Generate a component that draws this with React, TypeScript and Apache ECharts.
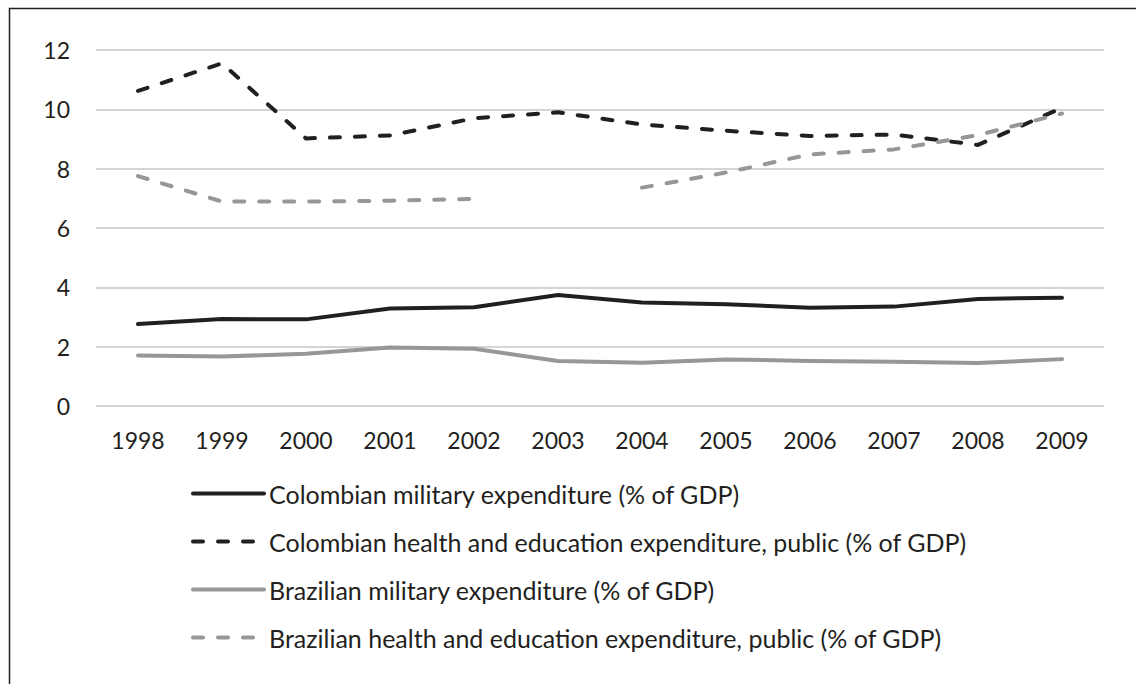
import React, { useEffect, useRef } from "react";
import * as echarts from "echarts";

const years = ["1998", "1999", "2000", "2001", "2002", "2003", "2004", "2005", "2006", "2007", "2008", "2009"];
const colMilitary = [2.76, 2.93, 2.92, 3.29, 3.33, 3.74, 3.49, 3.43, 3.31, 3.35, 3.61, 3.65];
const colHealthEdu = [10.62, 11.55, 9.02, 9.12, 9.7, 9.9, 9.49, 9.28, 9.1, 9.15, 8.8, 10.05];
const braMilitary = [1.7, 1.67, 1.76, 1.97, 1.93, 1.52, 1.46, 1.57, 1.52, 1.49, 1.45, 1.58];
const braHealthEdu = [7.75, 6.89, 6.89, 6.92, 6.98, null, 7.36, 7.87, 8.48, 8.65, 9.13, 9.86];

const seriesNames = [
  "Colombian military expenditure (% of GDP)",
  "Colombian health and education expenditure, public (% of GDP)",
  "Brazilian military expenditure (% of GDP)",
  "Brazilian health and education expenditure, public (% of GDP)",
];

const BLACK = "#231f20";
const GRAY = "#96979a";
const FONT = "Lato";

export default function App() {
  const ref = useRef<HTMLDivElement>(null);
  useEffect(() => {
    if (!ref.current) return;
    const chart = echarts.init(ref.current, null, { renderer: "svg" });
    const mk = (name: string, data: (number | null)[], color: string, dashed: boolean) => ({
      name,
      type: "line",
      data,
      symbol: "none",
      connectNulls: false,
      lineStyle: {
        color,
        width: 4,
        type: dashed ? [10, 15] : "solid",
        cap: "round",
        join: "round",
      },
      itemStyle: { color },
    });
    chart.setOption({
      animation: false,
      backgroundColor: "#ffffff",
      graphic: [
        {
          type: "rect",
          left: 7,
          top: 6,
          shape: { x: 0, y: 0, width: 1200, height: 800 },
          style: { fill: "none", stroke: BLACK, lineWidth: 1.5 },
          silent: true,
        },
      ],
      grid: { left: 96, right: 32, top: 50, bottom: 278 },
      xAxis: {
        type: "category",
        data: years,
        boundaryGap: true,
        axisLine: { show: false },
        axisTick: { show: false },
        axisLabel: { color: BLACK, fontFamily: FONT, fontSize: 23, margin: 22 },
        splitLine: { show: false },
      },
      yAxis: {
        type: "value",
        min: 0,
        max: 12,
        interval: 2,
        axisLine: { show: false },
        axisTick: { show: false },
        axisLabel: { color: BLACK, fontFamily: FONT, fontSize: 23, margin: 26 },
        splitLine: { lineStyle: { color: "#d4d4d4", width: 2 } },
      },
      legend: {
        orient: "vertical",
        left: 191,
        top: 481,
        padding: 0,
        itemWidth: 71,
        itemHeight: 24,
        itemGap: 23,
        itemStyle: { opacity: 0 },
        lineStyle: { width: 4, cap: "round" },
        textStyle: {
          color: BLACK,
          fontFamily: FONT,
          fontSize: 25,
          lineHeight: 24,
          padding: [0, 0, 0, 0],
        },
        data: seriesNames,
        selectedMode: false,
      },
      series: [
        mk(seriesNames[0], colMilitary, BLACK, false),
        mk(seriesNames[1], colHealthEdu, BLACK, true),
        mk(seriesNames[2], braMilitary, GRAY, false),
        mk(seriesNames[3], braHealthEdu, GRAY, true),
      ],
    });
    return () => chart.dispose();
  }, []);
  return (
    <div
      ref={ref}
      style={{ position: "fixed", left: 0, top: 0, width: 1136, height: 684, background: "#fff" }}
    />
  );
}
